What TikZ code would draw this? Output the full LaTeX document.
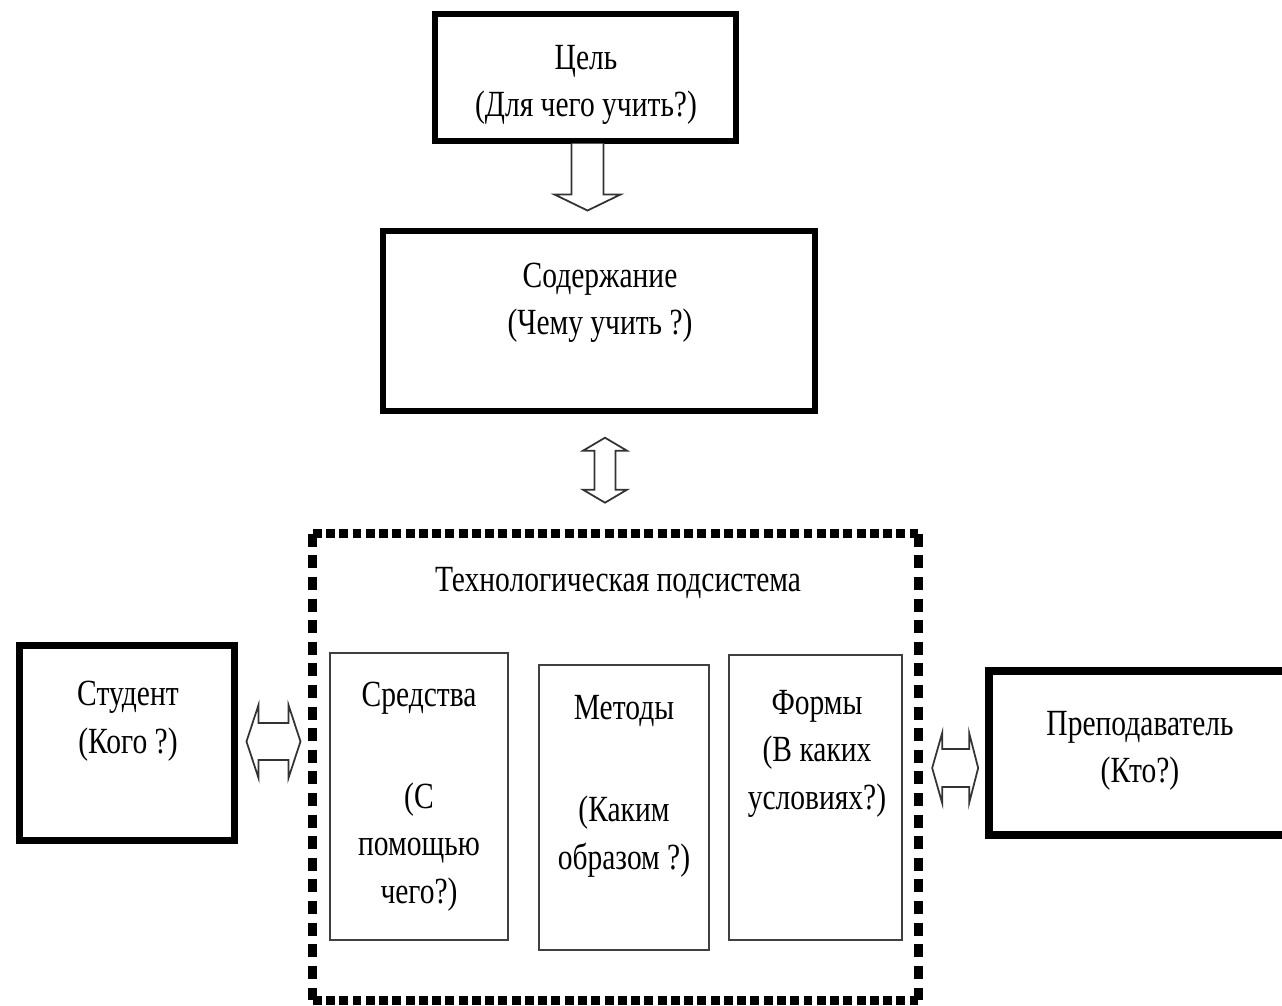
\documentclass[tikz,border=0pt]{standalone}
\usepackage{fontspec}
\setmainfont[FakeStretch=0.8]{Liberation Serif}
\usetikzlibrary{calc}
\begin{document}
\begin{tikzpicture}[x=0.02cm, y=-0.02cm,
    bigbox/.style={draw, line width=2.9pt, inner sep=0pt},
    smallbox/.style={draw=black!75, line width=1.1pt, inner sep=0pt},
    lbl/.style={font=\fontsize{21}{27}\selectfont, align=center, inner sep=0pt, anchor=base},
    blockarrow/.style={draw=black!80, fill=white, line width=1pt, line join=miter},
    dashh/.style={line width=5pt, dash pattern=on 5.1pt off 2.45pt},
    dashv/.style={line width=5pt, dash pattern=on 7.4pt off 4.9pt}]
    \clip (0,0) rectangle (1282,1006);
    \fill[white] (0,0) rectangle (1282,1006);
    % boxes
    \node[bigbox, minimum width=6.02cm, minimum height=2.54cm] (cel) at (585.5,77.5) {};
    \node[bigbox, minimum width=8.64cm, minimum height=3.6cm, line width=3.1pt] (sod) at (599,321) {};
    \node[bigbox, minimum width=4.32cm, minimum height=3.92cm, line width=4pt] (stud) at (127,743) {};
    \node[bigbox, minimum width=6.22cm, minimum height=3.28cm, line width=4.4pt] (prep) at (1144.5,753) {};
    \node[inner sep=0pt, minimum width=12.1cm, minimum height=9.32cm] (tech) at (615.5,767) {};
    \draw[dashh] (tech.north west) -- (tech.north east) (tech.south west) -- (tech.south east);
    \draw[dashv] (tech.north west) -- (tech.south west) (tech.north east) -- (tech.south east);
    \node[smallbox, minimum width=3.56cm, minimum height=5.74cm] (sred) at (419,796.5) {};
    \node[smallbox, minimum width=3.4cm, minimum height=5.7cm] (met) at (624,807.5) {};
    \node[smallbox, minimum width=3.46cm, minimum height=5.7cm] (form) at (815.5,797.5) {};
    % texts (anchored at the last line)
    \node[lbl] (celtxt) at (586,117) {Цель\\(Для чего учить?)};
    \node[lbl] (sodtxt) at (600,335) {Содержание\\(Чему учить ?)};
    \node[lbl] (techtxt) at (618,592) {Технологическая подсистема};
    \node[lbl] (sredtxt) at (419,903) {Средства\\[31pt](С\\помощью\\чего?)};
    \node[lbl] (mettxt) at (624,869) {Методы\\[31pt](Каким\\образом ?)};
    \node[lbl] (formtxt) at (817,809) {Формы\\(В каких\\условиях?)};
    \node[lbl] (studtxt) at (128,753) {Студент\\(Кого ?)};
    \node[lbl] (preptxt) at (1140,783) {Преподаватель\\(Кто?)};
    % arrows
    \draw[blockarrow] ($(cel.south)+(-14,0)$) -- ++(0,51) -- ++(-17,0) -- ++(33,16) -- ++(33,-16) -- ++(-17,0) -- ++(0,-51);
    \draw[blockarrow] ($(sod.south)+(6,24)$) -- ++(22,13) -- ++(-11.5,0) -- ++(0,39) -- ++(11.5,0) -- ++(-22,13) -- ++(-22,-13) -- ++(11.5,0) -- ++(0,-39) -- ++(-11.5,0) -- cycle;
    \draw[blockarrow] ($(stud.east)+(8,-1.5)$) -- ++(12,-36.5) -- ++(0,18) -- ++(30,0) -- ++(0,-18) -- ++(12,36.5) -- ++(-12,36.5) -- ++(0,-18) -- ++(-30,0) -- ++(0,18) -- cycle;
    \draw[blockarrow] ($(prep.west)+(-7,15)$) -- ++(-9,-35) -- ++(0,16) -- ++(-27,0) -- ++(0,-16) -- ++(-10,35) -- ++(10,35) -- ++(0,-16) -- ++(27,0) -- ++(0,16) -- cycle;
\end{tikzpicture}
\end{document}
